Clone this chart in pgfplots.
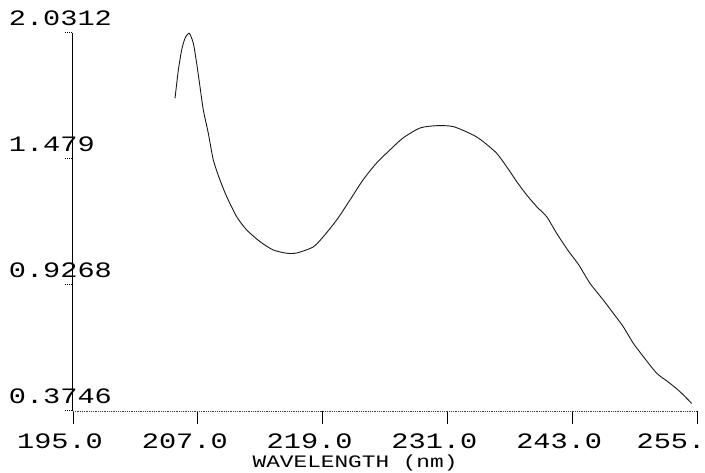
\documentclass[border=0pt]{standalone}
\usepackage{pgfplots}
\pgfplotsset{compat=1.18}
\usepackage{fontspec}
\newfontfamily\plotfont[FakeStretch=1.3]{Liberation Mono}
\newcommand\tickfont{\plotfont\fontsize{22}{24}\selectfont}
\newcommand\labfont{\plotfont\fontsize{17.5}{19}\selectfont}
\begin{document}
\begin{tikzpicture}
\begin{axis}[
  scale only axis, width=624pt, height=378pt,
  xmin=195, xmax=255, ymin=0.3746, ymax=2.0312,
  axis x line=bottom, axis y line=left,
  axis line style={-},
  x axis line style={densely dotted, black!75, line width=0.8pt},
  y axis line style={solid, black, line width=1pt},
  xtick={195,207,219,231,243},
  xticklabels={195.0,207.0,219.0,231.0,243.0},
  extra x ticks={255},
  extra x tick labels={255.},
  extra x tick style={xticklabel style={xshift=-13pt}},
  ytick={0.3746,0.9268,1.479,2.0312},
  yticklabels={0.3746,0.9268,1.479,2.0312},
  tick align=outside,
  xtick style={black, line width=0.9pt, solid},
  ytick style={black, line width=1pt, densely dotted},
  x tick style={/pgfplots/major tick length=13pt},
  y tick style={/pgfplots/major tick length=8pt},
  xticklabel style={font=\tickfont, inner sep=0pt, anchor=north, xshift=-13pt, yshift=-18pt},
  yticklabel style={font=\tickfont, inner sep=0pt, anchor=south west, xshift=-60pt, yshift=7pt},
  xlabel={WAVELENGTH (nm)},
  xlabel style={font=\labfont, inner sep=0pt, at={(rel axis cs:0.452,0)}, anchor=north, yshift=-44pt},
  clip=false,
]
\coordinate (bl) at (rel axis cs:0,0);
\addplot[black!90, line width=0.9pt, smooth, tension=0.4] coordinates {
(204.81,1.745) (205.13,1.869) (205.45,1.957) (205.77,2.008) (206.18,2.030)
(206.57,1.986) (206.89,1.899) (207.21,1.796) (207.53,1.694) (208.01,1.592)
(208.49,1.475) (209.13,1.387) (209.78,1.314) (210.74,1.226) (211.70,1.168)
(212.98,1.117) (214.26,1.080) (215.55,1.066) (216.51,1.067) (218.08,1.093)
(219.04,1.137) (220.36,1.212) (221.63,1.299) (222.88,1.387) (224.20,1.462)
(225.48,1.519) (226.73,1.571) (228.37,1.615) (229.97,1.625) (231.57,1.621)
(233.49,1.584) (234.45,1.555) (235.74,1.504) (236.70,1.445) (237.66,1.380)
(238.63,1.321) (239.59,1.270) (240.55,1.226) (241.51,1.153) (242.60,1.078)
(243.65,1.014) (244.71,0.934) (245.99,0.861) (246.95,0.803) (247.91,0.744)
(248.88,0.671) (249.84,0.613) (251.13,0.540) (252.40,0.496) (253.37,0.459)
(254.49,0.408)
};
\end{axis}
\pgfresetboundingbox
\path[use as bounding box] ([shift={(-73pt,-62pt)}]bl) rectangle ([shift={(632pt,411pt)}]bl);
\end{tikzpicture}
\end{document}
